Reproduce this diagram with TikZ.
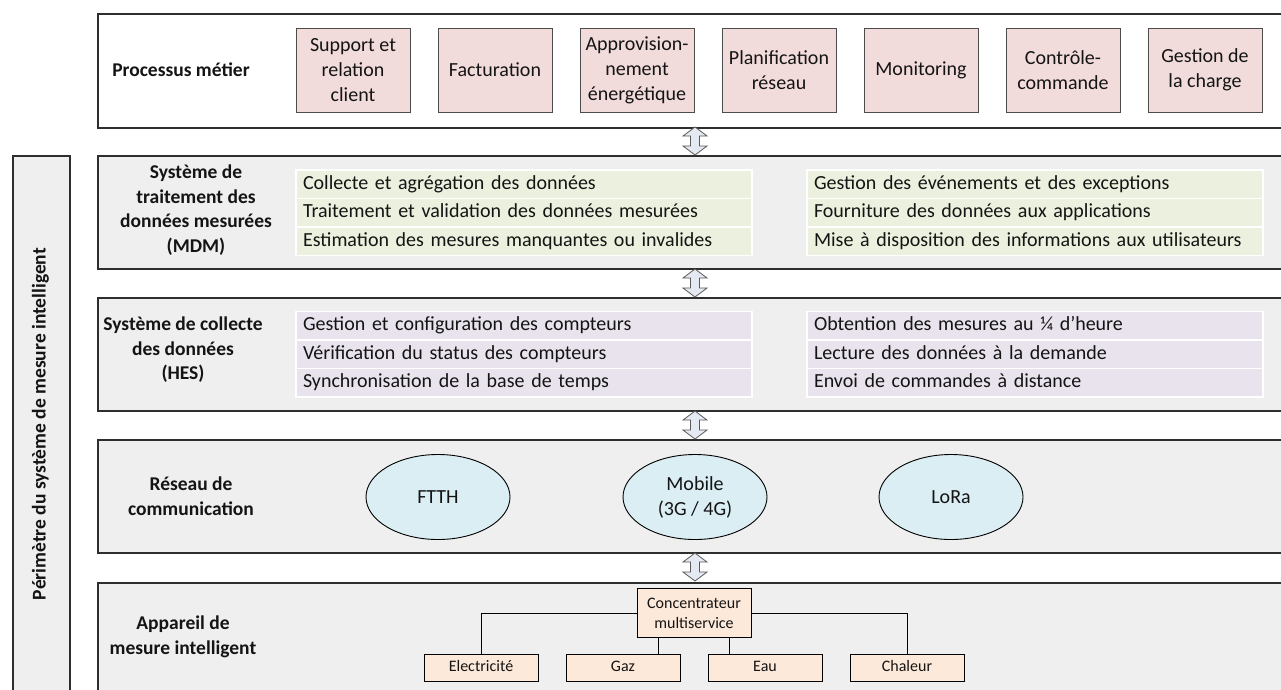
\documentclass[tikz,border=0pt]{standalone}
\usepackage{fontspec}
\setmainfont{Carlito}
\usetikzlibrary{shapes.geometric,calc}
\definecolor{laygray}{HTML}{EFEFEF}
\definecolor{pinkbox}{HTML}{F2DCDB}
\definecolor{greenrow}{HTML}{EBF1DE}
\definecolor{lavrow}{HTML}{E8E3EC}
\definecolor{ellfill}{HTML}{DAEEF3}
\definecolor{orangebox}{HTML}{FDE9D9}
\definecolor{arrfill}{HTML}{E4E9F2}
\definecolor{edge}{HTML}{2E2E2E}
\definecolor{txt}{HTML}{141414}
\newcommand\udarrow[1]{\draw[udarr] ($(#1)+(0,-14)$) -- ++(12,9) -- ++(-7.5,0) -- ++(0,10) -- ++(7.5,0) -- ++(-12,9) -- ++(-12,-9) -- ++(7.5,0) -- ++(0,-10) -- ++(-7.5,0) -- cycle;}
\begin{document}
\begin{tikzpicture}[x=1pt,y=-1pt,
  every node/.style={text=txt},
  layer/.style={draw=edge, line width=1.5pt, fill=laygray, anchor=north west, minimum width=1250pt, inner sep=0pt},
  lbl/.style={font=\fontsize{19.5}{24.5}\selectfont\bfseries, align=center},
  pbox/.style={draw=black!70, line width=0.8pt, fill=pinkbox, minimum width=114pt, minimum height=84pt, inner sep=0pt, align=center, font=\fontsize{20}{25}\selectfont},
  greenrowst/.style={draw=white, line width=1.5pt, fill=greenrow, minimum height=28.5pt, text width=442pt, inner xsep=7pt, inner ysep=0pt, text height=14pt, text depth=4.5pt, align=left, font=\fontsize{20}{24}\selectfont},
  lavrowst/.style={greenrowst, fill=lavrow},
  ell/.style={ellipse, draw=black, line width=0.9pt, fill=ellfill, minimum width=144pt, minimum height=85pt, inner sep=0pt, align=center, font=\fontsize{20}{25}\selectfont},
  obox/.style={draw=black, line width=0.8pt, fill=orangebox, minimum width=114pt, minimum height=27pt, inner sep=0pt, align=center, font=\fontsize{16}{20}\selectfont},
  oboxs/.style={obox, text height=11.5pt, text depth=3.5pt},
  conn/.style={draw=black, line width=0.9pt},
  udarr/.style={draw=black!65, line width=0.8pt, fill=arrfill, line join=miter}
]
\clip (0,0) rectangle (1281,689);
\fill[white] (0,0) rectangle (1281,689);

% left perimeter bar
\node[draw=edge, line width=1.5pt, fill=laygray, anchor=north west, minimum width=57pt, minimum height=540pt, inner sep=0pt] (perim) at (12,155) {};
\node[rotate=90, font=\fontsize{19.5}{24}\selectfont\bfseries] (perimt) at (40.5,424) {Périmètre du système de mesure intelligent};

% layers
\node[layer, fill=white, minimum height=114pt] (proc) at (97,13) {};
\node[layer, minimum height=113pt] (mdm) at (97,155) {};
\node[layer, minimum height=113pt] (hes) at (97,297) {};
\node[layer, minimum height=113pt] (res) at (97,439) {};
\node[layer, minimum height=130pt] (app) at (97,582) {};

% arrows between layers
\coordinate (a1) at (695,141);
\coordinate (a2) at (695,283);
\coordinate (a3) at (695,425);
\coordinate (a4) at (695,567);
\udarrow{a1}
\udarrow{a2}
\udarrow{a3}
\udarrow{a4}

% Processus metier
\node[lbl] (procl) at (181,70) {Processus métier};
\node[pbox] (p1) at (353,70) {Support et\\relation\\client};
\node[pbox] (p2) at (495,70) {Facturation};
\node[pbox] (p3) at (637,70) {Approvision-\\nement\\énergétique};
\node[pbox] (p4) at (779,70) {Planification\\réseau};
\node[pbox] (p5) at (921,70) {Monitoring};
\node[pbox] (p6) at (1063,70) {Contrôle-\\commande};
\node[pbox] (p7) at (1205,70) {Gestion de\\la charge};

% MDM
\node[lbl] (mdml) at (196,210) {Système de\\traitement des\\données mesurées\\(MDM)};
\node[greenrowst] (m1) at (524,184.25) {Collecte et agrégation des données};
\node[greenrowst] (m2) at (524,212.75) {Traitement et validation des données mesurées};
\node[greenrowst] (m3) at (524,241.25) {Estimation des mesures manquantes ou invalides};
\node[greenrowst] (m4) at (1035,184.25) {Gestion des événements et des exceptions};
\node[greenrowst] (m5) at (1035,212.75) {Fourniture des données aux applications};
\node[greenrowst] (m6) at (1035,241.25) {Mise à disposition des informations aux utilisateurs};

% HES
\node[lbl] (hesl) at (183,350) {Système de collecte\\des données\\(HES)};
\node[lavrowst] (h1) at (524,325.75) {Gestion et configuration des compteurs};
\node[lavrowst] (h2) at (524,354.25) {Vérification du status des compteurs};
\node[lavrowst] (h3) at (524,382.75) {Synchronisation de la base de temps};
\node[lavrowst] (h4) at (1035,325.75) {Obtention des mesures au ¼ d’heure};
\node[lavrowst] (h5) at (1035,354.25) {Lecture des données à la demande};
\node[lavrowst] (h6) at (1035,382.75) {Envoi de commandes à distance};

% Reseau
\node[lbl] (resl) at (191,496) {Réseau de\\communication};
\node[ell] (e1) at (438,497) {FTTH};
\node[ell] (e2) at (695,497) {Mobile\\(3G / 4G)};
\node[ell] (e3) at (951,497) {LoRa};

% Appareil
\node[lbl] (appl) at (183,637) {Appareil de\\mesure intelligent};
\node[obox, minimum height=49pt] (conc) at (694,613) {Concentrateur\\multiservice};
\node[oboxs] (b1) at (481,667.5) {Electricité};
\node[oboxs] (b2) at (623,667.5) {Gaz};
\node[oboxs] (b3) at (765,667.5) {Eau};
\node[oboxs] (b4) at (907,667.5) {Chaleur};
\draw[conn] (conc.west) -| (b1.north);
\draw[conn] (conc.east) -| (b4.north);
\draw[conn] ([xshift=-36pt]conc.south) -- ([xshift=-36pt]conc.south |- b2.north);
\draw[conn] ([xshift=35pt]conc.south) -- ([xshift=35pt]conc.south |- b3.north);
\end{tikzpicture}
\end{document}
